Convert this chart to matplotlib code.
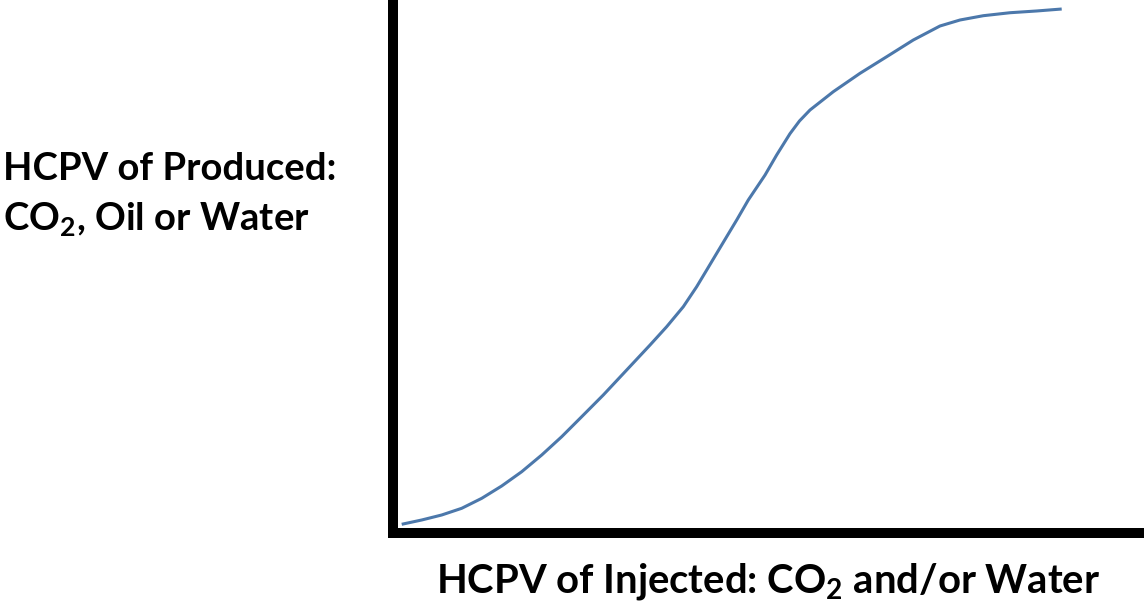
import matplotlib
matplotlib.use("Agg")
import matplotlib.pyplot as plt

# Curve data (arbitrary units, 0-100 scale)
x_injected = [1.16, 3.83, 6.49, 9.16, 11.83, 14.49, 17.16, 19.83, 22.49, 25.16,
              28.04, 31.16, 34.27, 36.49, 38.71, 40.49, 41.83, 43.16, 44.49, 45.83,
              47.37, 49.60, 51.16, 52.93, 54.20, 55.60, 58.71, 62.27, 65.83, 69.37,
              72.93, 75.60, 78.71, 82.27, 85.83, 89.16]
y_produced = [1.64, 2.45, 3.39, 4.65, 6.53, 8.85, 11.54, 14.69, 18.13, 21.90,
              25.99, 30.70, 35.40, 38.85, 42.62, 46.38, 49.53, 52.67, 55.80, 58.95,
              62.71, 67.40, 71.20, 75.20, 77.60, 79.66, 83.11, 86.57, 89.70, 92.84,
              95.48, 96.61, 97.42, 97.98, 98.31, 98.68]

x_label = "HCPV of Injected: $\\mathregular{CO_2}$ and/or Water"
y_label_lines = ["HCPV of Produced:", "$\\mathregular{CO_2}$, Oil or Water"]

plt.rcParams['font.family'] = ['Lato', 'DejaVu Sans']
plt.rcParams['mathtext.default'] = 'regular'

W, H = 1144, 601
fig = plt.figure(figsize=(W / 100, H / 100), dpi=100)
ax = fig.add_axes([393 / W, (H - 533) / H, 750 / W, 531 / H])
ax.plot(x_injected, y_produced, color='#4C78AB', lw=2.2,
        solid_capstyle='butt', solid_joinstyle='round')
ax.set_xlim(0, 100)
ax.set_ylim(0, 100)
for s in ['top', 'right']:
    ax.spines[s].set_visible(False)
for s in ['left', 'bottom']:
    ax.spines[s].set_linewidth(7.2)
    ax.spines[s].set_color('black')
ax.set_xticks([])
ax.set_yticks([])

fig.text(768 / W, 1 - 592 / H, x_label, ha='center', va='baseline',
         fontsize=28.8, fontweight='bold', color='black')
fig.text(3 / W, 1 - 180 / H, y_label_lines[0], ha='left', va='baseline',
         fontsize=27.5, fontweight='bold', color='black')
fig.text(3 / W, 1 - 230 / H, y_label_lines[1], ha='left', va='baseline',
         fontsize=27.5, fontweight='bold', color='black')

fig.savefig('out.png', dpi=100)
